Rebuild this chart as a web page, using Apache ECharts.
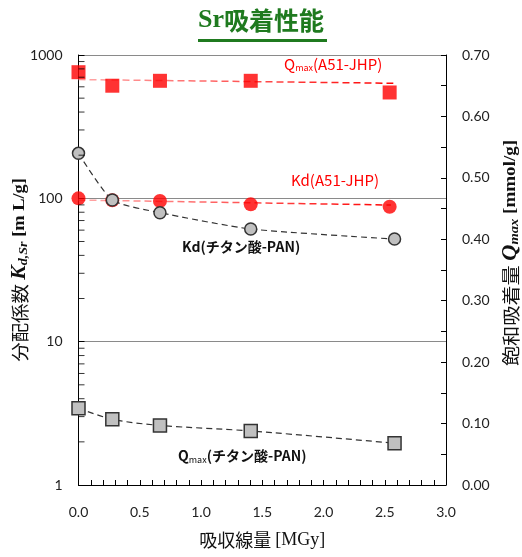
<!DOCTYPE html>
<html>
<head>
<meta charset="utf-8">
<script src="https://cdn.jsdelivr.net/npm/echarts@6/dist/echarts.min.js"></script>
<style>
html,body{margin:0;padding:0;background:#fff;}
#chart{width:522px;height:557px;}
</style>
</head>
<body>
<div id="chart"></div>
<script>
// ---- data ----
const xTicks = [0.0, 0.5, 1.0, 1.5, 2.0, 2.5, 3.0];
const leftTicks = [1, 10, 100, 1000];
const rightTicks = [0.00, 0.10, 0.20, 0.30, 0.40, 0.50, 0.60, 0.70];

const doseA51 = [0, 0.276, 0.665, 1.406, 2.54];
const qmaxA51 = [0.672, 0.650, 0.658, 0.658, 0.639];
const kdA51 = [100, 97, 95.8, 90.8, 87.4];

const dosePAN = [0, 0.276, 0.665, 1.406, 2.58];
const kdPAN = [206, 97.3, 79.4, 61.1, 52.0];
const qmaxPAN = [0.125, 0.107, 0.097, 0.088, 0.068];

const trendQmaxA51X = [0, 2.57];
const trendQmaxA51Y = [0.660, 0.654];
const trendKdA51X = [0, 2.55];
const trendKdA51Y = [97.3, 89.8];

const logMinor = [2,3,4,5,6,7,8,9,20,30,40,50,60,70,80,90,200,300,400,500,600,700,800,900];

const zip = (xs, ys) => xs.map((x, i) => [x, ys[i]]);

const chart = echarts.init(document.getElementById('chart'), null, {renderer: 'canvas'});

const mkGrad = () => new echarts.graphic.LinearGradient(0, 0, 1, 0, [
  {offset: 0, color: 'rgba(255,160,160,0.9)'},
  {offset: 1, color: 'rgba(255,0,0,1)'}
]);

const tickFont = 'Lato, "Liberation Sans", sans-serif';
const cjk = '"Noto Sans CJK JP", sans-serif';
const serif = '"Liberation Serif", "DejaVu Serif", serif';
const ink = '#111';

const axisTitleRich = {
  c: {fontFamily: cjk, fontSize: 18, fill: ink},
  k: {fontFamily: serif, fontStyle: 'italic', fontWeight: 'bold', fontSize: 20, fill: ink},
  s: {fontFamily: serif, fontStyle: 'italic', fontWeight: 'bold', fontSize: 13, fill: ink, verticalAlign: 'bottom', padding: [7, 0, 0, 0]},
  b: {fontFamily: serif, fontWeight: 'bold', fontSize: 17, fill: ink}
};

const option = {
  animation: false,
  backgroundColor: '#fff',
  grid: {left: 78.5, right: 76, top: 55, bottom: 72, containLabel: false, outerBoundsMode: 'none'},
  xAxis: {
    type: 'value', min: 0, max: 3, interval: 0.5,
    axisLine: {lineStyle: {color: '#000', width: 1}},
    axisTick: {inside: true, length: 5, lineStyle: {color: '#000'}},
    minorTick: {show: true, splitNumber: 5, length: 5, lineStyle: {color: '#000'}},
    axisLabel: {formatter: v => v.toFixed(1), color: '#222', fontFamily: tickFont, fontSize: 14, margin: 20},
    splitLine: {show: false},
    name: '吸収線量 {b|[MGy]}', nameLocation: 'middle', nameGap: 46,
    nameTextStyle: {fontFamily: cjk, fontSize: 18, color: ink,
      rich: {b: {fontFamily: serif, fontSize: 18, color: ink, fontWeight: 'normal'}}}
  },
  yAxis: [
    {
      type: 'log', logBase: 10, min: 1, max: 1000,
      axisLine: {show: true, lineStyle: {color: '#000'}},
      axisTick: {inside: true, length: 6, lineStyle: {color: '#000'}},
      axisLabel: {formatter: v => String(Math.round(v)), color: '#222', fontFamily: tickFont, fontSize: 14, margin: 16},
      splitLine: {show: true, showMinLine: false, showMaxLine: true, lineStyle: {color: '#8a8a8a', width: 1}}
    },
    {
      type: 'value', min: 0, max: 0.7, interval: 0.1, position: 'right',
      axisLine: {show: true, lineStyle: {color: '#000'}},
      axisTick: {inside: true, length: 5, lineStyle: {color: '#000'}},
      minorTick: {show: true, splitNumber: 2, length: 5, lineStyle: {color: '#000'}},
      axisLabel: {formatter: v => v.toFixed(2), color: '#222', fontFamily: tickFont, fontSize: 14, margin: 16},
      splitLine: {show: false}
    }
  ],
  graphic: [
    {type: 'text', left: 'center', top: 7, style: {
      text: '{s|Sr}{c|吸着性能}', rich: {
        s: {fontFamily: serif, fontWeight: 'bold', fontSize: 26, fill: '#1f7a1f'},
        c: {fontFamily: cjk, fontWeight: 'bold', fontSize: 25, fill: '#1f7a1f'}
      }}},
    {type: 'rect', shape: {x: 198, y: 39, width: 129, height: 3}, style: {fill: '#1f7a1f'}},
    // axis titles (rotated)
    {type: 'text', x: 20, y: 270, rotation: Math.PI / 2, scaleX: 1.08, style: {
      text: '{c|分配係数 }{k|K}{s|d,Sr}{b| [m L/g]}', align: 'center', verticalAlign: 'middle', rich: axisTitleRich}},
    {type: 'text', x: 511, y: 253, rotation: Math.PI / 2, scaleX: 1.12, style: {
      text: '{c|飽和吸着量 }{k|Q}{s|max}{b| [mmol/g]}', align: 'center', verticalAlign: 'middle', rich: axisTitleRich}},
    // series labels
    {type: 'text', left: 284, top: 57, style: {
      text: '{a|Q}{s|max}{a|(A51-JHP)}', rich: {
        a: {fontFamily: cjk, fontSize: 15, fill: '#ff0000'},
        s: {fontFamily: cjk, fontSize: 9, fill: '#ff0000', verticalAlign: 'bottom', padding: [7, 0, 0, 0]}
      }}},
    {type: 'text', left: 291, top: 173, style: {
      text: 'Kd(A51-JHP)', fontFamily: cjk, fontSize: 15, fill: '#ff0000'}},
    {type: 'text', left: 182, top: 240, style: {
      text: 'Kd(チタン酸-PAN)', fontFamily: cjk, fontSize: 14, fontWeight: 'bold', fill: ink}},
    {type: 'text', left: 178, top: 449, style: {
      text: '{a|Q}{s|max}{a|(チタン酸-PAN)}', rich: {
        a: {fontFamily: cjk, fontSize: 14, fontWeight: 'bold', fill: ink},
        s: {fontFamily: cjk, fontSize: 9, fill: ink, verticalAlign: 'bottom', padding: [7, 0, 0, 0]}
      }}}
  ],
  series: [
    {
      // minor ticks of the log axis, placed through the log scale
      name: 'logMinorTicks', type: 'scatter', yAxisIndex: 0, silent: true, clip: false, z: 5,
      symbol: 'rect', symbolSize: [6, 1], symbolOffset: [3, 0],
      itemStyle: {color: '#000'},
      data: logMinor.map(v => [0, v])
    },
    {
      name: 'trendQmaxA51', type: 'line', yAxisIndex: 1, symbol: 'none', z: 2,
      data: zip(trendQmaxA51X, trendQmaxA51Y),
      lineStyle: {color: mkGrad(), width: 1.5, type: [7, 4]}
    },
    {
      name: 'Qmax(A51-JHP)', type: 'scatter', yAxisIndex: 1, symbol: 'rect', symbolSize: 14, z: 3,
      data: zip(doseA51, qmaxA51), itemStyle: {color: '#ff0000'}
    },
    {
      name: 'trendKdA51', type: 'line', yAxisIndex: 0, symbol: 'none', z: 2,
      data: zip(trendKdA51X, trendKdA51Y),
      lineStyle: {color: mkGrad(), width: 1.5, type: [7, 4]}
    },
    {
      name: 'Kd(A51-JHP)', type: 'scatter', yAxisIndex: 0, symbol: 'circle', symbolSize: 14, z: 3,
      data: zip(doseA51, kdA51), itemStyle: {color: '#ff0000'}
    },
    {
      name: 'Kd(PAN)', type: 'line', yAxisIndex: 0, smooth: 0.2, z: 4,
      symbol: 'circle', symbolSize: 12, showAllSymbol: true,
      data: zip(dosePAN, kdPAN),
      lineStyle: {color: '#333', width: 1.2, type: [6, 4]},
      itemStyle: {color: '#c0c0c0', borderColor: '#333', borderWidth: 1.5}
    },
    {
      name: 'Qmax(PAN)', type: 'line', yAxisIndex: 1, smooth: 0.3, z: 4,
      symbol: 'rect', symbolSize: 13, showAllSymbol: true,
      data: zip(dosePAN, qmaxPAN),
      lineStyle: {color: '#333', width: 1.2, type: [6, 4]},
      itemStyle: {color: '#c0c0c0', borderColor: '#333', borderWidth: 1.5}
    }
  ]
};
chart.setOption(option);
</script>
</body>
</html>
